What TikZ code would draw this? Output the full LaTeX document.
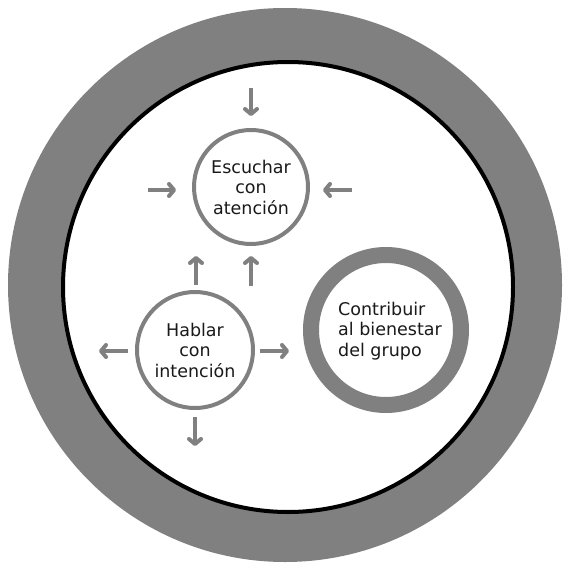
\documentclass[tikz,border=0pt]{standalone}
\usepackage{fontspec}
\setmainfont{DejaVu Sans}
\usetikzlibrary{arrows.meta}
\definecolor{ringgray}{HTML}{808080}
\definecolor{txtcol}{HTML}{1A1A1A}
\begin{document}
\begin{tikzpicture}[x=1pt,y=-1pt,
  txt/.style={font=\fontsize{17.5}{20.5}\selectfont, text=txtcol},
  smallcirc/.style={circle, draw=ringgray, line width=4pt, minimum size=114pt, inner sep=0pt, align=center},
  bigring/.style={circle, draw=ringgray, line width=16pt, minimum size=150pt, inner sep=0pt},
  arr/.style={draw=ringgray, line width=4pt, -{Straight Barb[length=5pt,width=12pt,round]}},
]
\useasboundingbox (0,0) rectangle (563,564);
% outer ring and inner field
\fill[ringgray] (285,285) circle[radius=277];
\draw[fill=white, line width=4pt] (288,287) circle[radius=225];

% circles
\node[smallcirc, txt] (esc) at (251,187) {Escuchar\\con\\atención};
\node[smallcirc, txt, minimum size=116pt] (hab) at (195,350) {Hablar\\con\\intención};
\node[bigring] (con) at (386,330) {};
\node[txt, align=left, anchor=west, inner sep=0pt] (contxt) at (338,331) {Contribuir\\al bienestar\\del grupo};

% arrow end points
\coordinate (a1s) at (251,88);  \coordinate (a1e) at (251,116);
\coordinate (a2s) at (148,190); \coordinate (a2e) at (176,190);
\coordinate (a3s) at (352,190); \coordinate (a3e) at (323,190);
\coordinate (a4s) at (196,285); \coordinate (a4e) at (196,256);
\coordinate (a5s) at (251,286); \coordinate (a5e) at (251,256);
\coordinate (a6s) at (128,351); \coordinate (a6e) at (99,351);
\coordinate (a7s) at (260,351); \coordinate (a7e) at (289,351);
\coordinate (a8s) at (195,417); \coordinate (a8e) at (195,446);

\draw[arr] (a1s) -- (a1e);
\draw[arr] (a2s) -- (a2e);
\draw[arr] (a3s) -- (a3e);
\draw[arr] (a4s) -- (a4e);
\draw[arr] (a5s) -- (a5e);
\draw[arr] (a6s) -- (a6e);
\draw[arr] (a7s) -- (a7e);
\draw[arr] (a8s) -- (a8e);
\end{tikzpicture}
\end{document}
